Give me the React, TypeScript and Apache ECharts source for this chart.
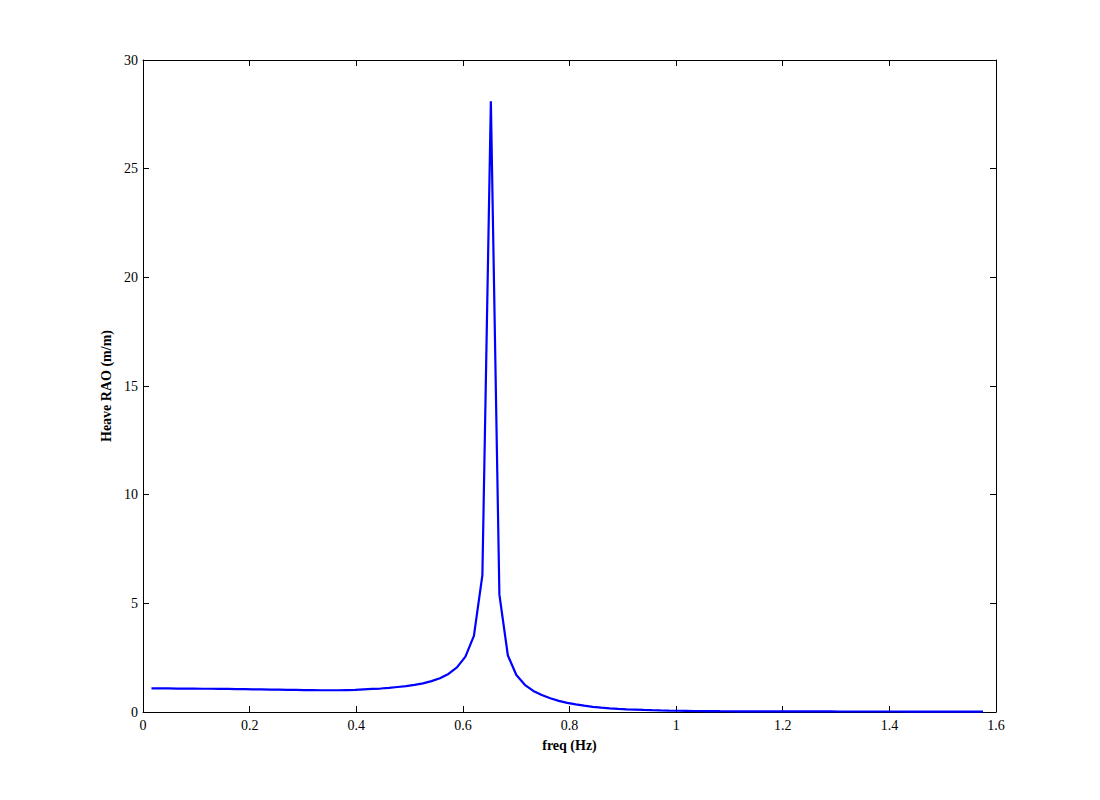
import React, { useEffect, useRef } from "react";
import * as echarts from "echarts";

const freqHz = [
  0.0159, 0.0318, 0.0477, 0.0637, 0.0796, 0.0955, 0.1114, 0.1273, 0.1432, 0.1592,
  0.1751, 0.191, 0.2069, 0.2228, 0.2387, 0.2546, 0.2706, 0.2865, 0.3024, 0.3183,
  0.3342, 0.3501, 0.3661, 0.382, 0.3979, 0.4138, 0.4297, 0.4456, 0.4615, 0.4775,
  0.4934, 0.5093, 0.5252, 0.5411, 0.557, 0.573, 0.5889, 0.6048, 0.6207, 0.6366,
  0.6525, 0.6685, 0.6844, 0.7003, 0.7162, 0.7321, 0.748, 0.7639, 0.7799, 0.7958,
  0.8117, 0.8276, 0.8435, 0.8594, 0.8754, 0.8913, 0.9072, 0.9231, 0.939, 0.9549,
  0.9708, 0.9868, 1.0027, 1.0186, 1.0345, 1.0504, 1.0663, 1.0823, 1.0982, 1.1141,
  1.13, 1.1459, 1.1618, 1.1777, 1.1937, 1.2096, 1.2255, 1.2414, 1.2573, 1.2732,
  1.2892, 1.3051, 1.321, 1.3369, 1.3528, 1.3687, 1.3846, 1.4006, 1.4165, 1.4324,
  1.4483, 1.4642, 1.4801, 1.4961, 1.512, 1.5279, 1.5438, 1.5597, 1.5756,
];

const heaveRAO = [
  1.09, 1.09, 1.09, 1.08, 1.08, 1.08, 1.07, 1.07, 1.06, 1.06,
  1.05, 1.05, 1.04, 1.04, 1.03, 1.03, 1.02, 1.02, 1.01, 1.01,
  1.0, 1.0, 1.0, 1.01, 1.02, 1.04, 1.06, 1.08, 1.11, 1.15,
  1.19, 1.25, 1.32, 1.42, 1.55, 1.75, 2.05, 2.55, 3.5, 6.3,
  28.1, 5.4, 2.6, 1.7, 1.25, 0.97, 0.78, 0.63, 0.51, 0.42,
  0.35, 0.29, 0.24, 0.2, 0.17, 0.145, 0.125, 0.11, 0.095, 0.083,
  0.073, 0.065, 0.058, 0.052, 0.047, 0.043, 0.04, 0.037, 0.035, 0.033,
  0.032, 0.031, 0.03, 0.029, 0.028, 0.027, 0.027, 0.026, 0.026, 0.025,
  0.025, 0.024, 0.024, 0.023, 0.023, 0.023, 0.022, 0.022, 0.022, 0.021,
  0.021, 0.021, 0.021, 0.02, 0.02, 0.02, 0.02, 0.02, 0.02,
];

const xTitle = "freq (Hz)";
const yTitle = "Heave RAO (m/m)";

const FONT = "'Liberation Serif', 'DejaVu Serif', serif";

export default function App() {
  const ref = useRef<HTMLDivElement>(null);
  useEffect(() => {
    if (!ref.current) return;
    const chart = echarts.init(ref.current, undefined, { renderer: "svg" });
    const axisLine = { show: true, onZero: false, lineStyle: { color: "#000", width: 1 } };
    const tick = { show: true, inside: true, length: 6, lineStyle: { color: "#000", width: 1 } };
    const label = { color: "#000", fontSize: 14, fontFamily: FONT };
    chart.setOption({
      animation: false,
      backgroundColor: "#fff",
      grid: { left: 143, top: 60, right: 104, bottom: 88, containLabel: false },
      xAxis: [
        {
          type: "value",
          position: "bottom",
          min: 0,
          max: 1.6,
          interval: 0.2,
          axisLine,
          axisTick: tick,
          splitLine: { show: false },
          axisLabel: { ...label, margin: 6 },
          name: xTitle,
          nameLocation: "middle",
          nameGap: 26,
          nameTextStyle: { color: "#000", fontSize: 14, fontWeight: "bold", fontFamily: FONT },
        },
        {
          type: "value",
          position: "top",
          min: 0,
          max: 1.6,
          interval: 0.2,
          axisLine,
          axisTick: tick,
          splitLine: { show: false },
          axisLabel: { show: false },
        },
      ],
      yAxis: [
        {
          type: "value",
          position: "left",
          min: 0,
          max: 30,
          interval: 5,
          axisLine,
          axisTick: tick,
          splitLine: { show: false },
          axisLabel: { ...label, margin: 5 },
          name: yTitle,
          nameLocation: "middle",
          nameGap: 29,
          nameTextStyle: { color: "#000", fontSize: 14, fontWeight: "bold", fontFamily: FONT },
        },
        {
          type: "value",
          position: "right",
          min: 0,
          max: 30,
          interval: 5,
          axisLine,
          axisTick: tick,
          splitLine: { show: false },
          axisLabel: { show: false },
        },
      ],
      series: [
        {
          type: "line",
          xAxisIndex: 0,
          yAxisIndex: 0,
          data: freqHz.map((f, i) => [f, heaveRAO[i]]),
          showSymbol: false,
          symbol: "none",
          lineStyle: { color: "#0000ff", width: 2.2 },
          itemStyle: { color: "#0000ff" },
        },
      ],
    });
    return () => chart.dispose();
  }, []);
  return (
    <div
      ref={ref}
      style={{ position: "absolute", left: 0, top: 0, width: 1100, height: 800, background: "#fff" }}
    />
  );
}
